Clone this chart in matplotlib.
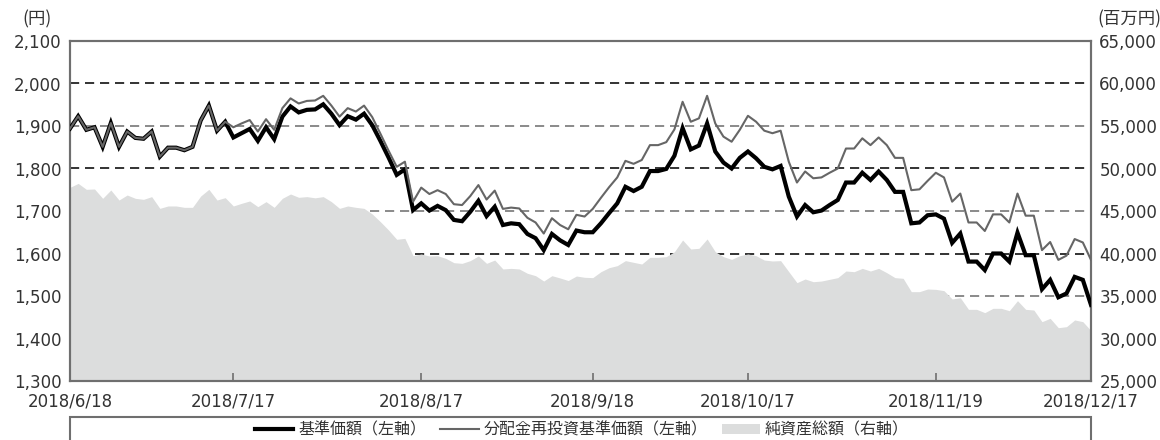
import numpy as np
import pandas as pd
import matplotlib
matplotlib.use("Agg")
import matplotlib.pyplot as plt
from matplotlib.lines import Line2D
from matplotlib.patches import Patch, Rectangle
from matplotlib.ticker import FuncFormatter

plt.rcParams['font.family'] = ['DejaVu Sans', 'Noto Sans CJK JP']

# ---- data ----
holidays = ['2018-07-16', '2018-09-17', '2018-09-24', '2018-10-08', '2018-11-23']
dates = pd.bdate_range('2018-06-18', '2018-12-17', freq='C', holidays=holidays)

nav = [1894, 1923, 1891, 1897, 1851, 1907, 1851, 1887, 1872, 1870,
       1887, 1828, 1849, 1849, 1843, 1851, 1913, 1948, 1889, 1910,
       1873, 1883, 1893, 1865, 1897, 1869, 1922, 1946, 1932, 1938,
       1939, 1951, 1929, 1902, 1923, 1915, 1929, 1902, 1865, 1826,
       1785, 1798, 1702, 1718, 1701, 1712, 1702, 1679, 1676, 1698,
       1724, 1688, 1710, 1667, 1671, 1669, 1646, 1636, 1608, 1646,
       1631, 1620, 1654, 1650, 1650, 1671, 1695, 1718, 1757, 1747,
       1757, 1794, 1794, 1799, 1830, 1895, 1845, 1854, 1906, 1840,
       1814, 1800, 1825, 1840, 1824, 1804, 1798, 1806, 1734, 1687,
       1714, 1697, 1701, 1714, 1726, 1767, 1767, 1790, 1773, 1793,
       1773, 1745, 1745, 1671, 1673, 1690, 1692, 1682, 1625, 1647,
       1581, 1581, 1561, 1600, 1600, 1581, 1649, 1596, 1596, 1516,
       1538, 1497, 1506, 1545, 1538, 1479]

nav_reinv = [1894, 1923, 1891, 1897, 1851, 1907, 1851, 1887, 1872, 1870,
             1887, 1828, 1849, 1849, 1843, 1851, 1913, 1948, 1889, 1910,
             1897, 1906, 1914, 1887, 1916, 1891, 1942, 1965, 1953, 1959,
             1960, 1971, 1948, 1922, 1942, 1934, 1948, 1921, 1882, 1842,
             1804, 1816, 1722, 1755, 1740, 1749, 1740, 1716, 1714, 1735,
             1761, 1727, 1748, 1705, 1708, 1706, 1684, 1673, 1647, 1683,
             1667, 1657, 1691, 1687, 1705, 1731, 1756, 1779, 1818, 1811,
             1820, 1855, 1855, 1862, 1892, 1957, 1910, 1918, 1971, 1906,
             1875, 1863, 1891, 1924, 1910, 1889, 1883, 1889, 1816, 1767,
             1793, 1777, 1779, 1790, 1800, 1847, 1847, 1871, 1855, 1873,
             1855, 1825, 1825, 1749, 1751, 1771, 1790, 1779, 1722, 1741,
             1673, 1673, 1653, 1692, 1692, 1673, 1741, 1689, 1689, 1608,
             1627, 1585, 1595, 1634, 1626, 1585]

net_assets = [47780, 48250, 47550, 47590, 46490, 47470, 46290, 46880, 46490, 46370,
              46690, 45310, 45590, 45590, 45430, 45430, 46760, 47550, 46290, 46570,
              45590, 45900, 46180, 45510, 46100, 45430, 46490, 47000, 46610, 46690,
              46550, 46690, 46100, 45310, 45590, 45430, 45310, 44650, 43740, 42760,
              41670, 41780, 39740, 39940, 39710, 39740, 39430, 38920, 38840, 39160,
              39710, 38840, 39230, 38180, 38250, 38180, 37670, 37390, 36760, 37390,
              37120, 36820, 37350, 37200, 37160, 37860, 38330, 38570, 39160, 38960,
              38760, 39550, 39550, 39630, 40210, 41590, 40530, 40610, 41710, 40210,
              39630, 39310, 39740, 39940, 39740, 39230, 39120, 39160, 37860, 36570,
              37000, 36680, 36760, 36960, 37160, 37940, 37860, 38250, 37940, 38250,
              37740, 37160, 37080, 35510, 35510, 35820, 35780, 35630, 34650, 34800,
              33430, 33430, 33040, 33550, 33550, 33270, 34450, 33430, 33350, 31980,
              32370, 31270, 31390, 32180, 31980, 30920]

tick_dates = ['2018-06-18', '2018-07-17', '2018-08-17', '2018-09-18',
              '2018-10-17', '2018-11-19', '2018-12-17']
tick_labels = ['2018/6/18', '2018/7/17', '2018/8/17', '2018/9/18',
               '2018/10/17', '2018/11/19', '2018/12/17']

left_ticks = [1300, 1400, 1500, 1600, 1700, 1800, 1900, 2000, 2100]
right_ticks = [25000, 30000, 35000, 40000, 45000, 50000, 55000, 60000, 65000]

series_labels = ['基準価額（左軸）', '分配金再投資基準価額（左軸）', '純資産総額（右軸）']

# ---- figure ----
W, H = 1160, 440
fig = plt.figure(figsize=(W / 100, H / 100), dpi=100)
ax = fig.add_axes([70 / W, 1 - 381 / H, 1021 / W, 340 / H])
ax2 = ax.twinx()
ax.set_zorder(ax2.get_zorder() + 1)
ax.patch.set_visible(False)

x = np.arange(len(dates))
date_idx = {d.strftime('%Y-%m-%d'): i for i, d in enumerate(dates)}
tick_pos = [date_idx[d] for d in tick_dates]

spine_col = '#6f6f6f'
text_col = '#333333'
area_col = '#dcdddd'

# gridlines (drawn on right axis, below the area)
for k, v in enumerate(right_ticks[1:-1]):
    col = '#111111' if k % 2 == 0 else '#777777'
    ax2.axhline(v, color=col, lw=1.2, ls=(0, (5.5, 3.5)), zorder=0)

ax2.fill_between(x, right_ticks[0], net_assets, color=area_col, lw=0, zorder=1)
ax2.set_ylim(right_ticks[0], right_ticks[-1])
ax2.set_yticks(right_ticks)
ax2.yaxis.set_major_formatter(FuncFormatter(lambda v, p: f'{v:,.0f}'))

ax.plot(x, nav, color='black', lw=3.0, zorder=3, solid_joinstyle='miter')
ax.plot(x, nav_reinv, color='#666666', lw=1.5, zorder=4)
ax.set_ylim(left_ticks[0], left_ticks[-1])
ax.set_yticks(left_ticks)
ax.yaxis.set_major_formatter(FuncFormatter(lambda v, p: f'{v:,.0f}'))
ax.set_xlim(0, len(dates) - 1)
ax.set_xticks(tick_pos)
ax.set_xticklabels(tick_labels)

for a in (ax, ax2):
    for s in a.spines.values():
        s.set_color(spine_col)
        s.set_linewidth(1.5)
ax.tick_params(axis='y', length=0, pad=6, labelsize=12, labelcolor=text_col)
ax2.tick_params(axis='y', length=0, pad=6, labelsize=12, labelcolor=text_col)
ax.tick_params(axis='x', direction='in', length=5.5, width=1.2, color=spine_col,
               pad=8, labelsize=12, labelcolor=text_col)

fig.text(37 / W, 1 - 19 / H, '(円)', ha='center', va='center', fontsize=12.5,
         color=text_col, family=['Noto Sans CJK JP', 'DejaVu Sans'])
fig.text(1129 / W, 1 - 19 / H, '(百万円)', ha='center', va='center', fontsize=12.5,
         color=text_col, family=['Noto Sans CJK JP', 'DejaVu Sans'])

# legend box
fig.add_artist(Rectangle((70 / W, -0.1), 1021 / W, (H - 417) / H + 0.1,
                         transform=fig.transFigure, fill=False,
                         edgecolor=spine_col, lw=1.5))
handles = [Line2D([], [], color='black', lw=3.0),
           Line2D([], [], color='#666666', lw=1.5),
           Patch(facecolor=area_col, edgecolor='none')]
fig.legend(handles, series_labels, loc='center', bbox_to_anchor=(582 / W, 1 - 430 / H),
           ncol=3, frameon=False, handlelength=2.4, handleheight=0.55,
           handletextpad=0.3, columnspacing=0.9,
           prop={'family': ['Noto Sans CJK JP', 'DejaVu Sans'], 'size': 11.5},
           labelcolor=text_col)

fig.savefig('out.png', dpi=100)
